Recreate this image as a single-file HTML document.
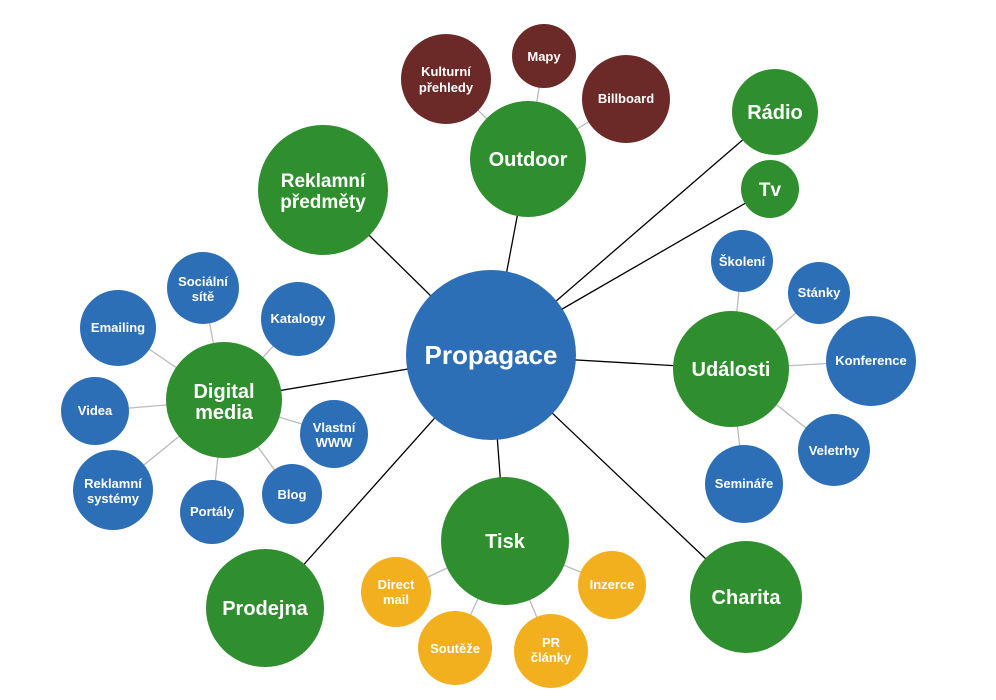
<!DOCTYPE html>
<html><head><meta charset="utf-8"><style>
html,body{margin:0;padding:0;background:#fff;}
svg{display:block;}
text{font-family:"Liberation Sans","DejaVu Sans",sans-serif;font-weight:bold;fill:#fff;text-anchor:middle;}
</style></head><body>
<svg width="996" height="700" viewBox="0 0 996 700" xmlns="http://www.w3.org/2000/svg">
<g stroke="#000" stroke-width="1.3">
<line x1="491" y1="355" x2="528" y2="159"/>
<line x1="491" y1="355" x2="323" y2="190"/>
<line x1="555" y1="302" x2="775" y2="112"/>
<line x1="557" y1="312" x2="770" y2="189"/>
<line x1="491" y1="355" x2="731" y2="369"/>
<line x1="491" y1="355" x2="746" y2="597"/>
<line x1="491" y1="355" x2="505" y2="541"/>
<line x1="491" y1="355" x2="265" y2="608"/>
<line x1="491" y1="355" x2="224" y2="400"/>
</g>
<g stroke="#bbb" stroke-width="1.3">
<line x1="528" y1="159" x2="446" y2="79"/><line x1="528" y1="159" x2="544" y2="56"/><line x1="528" y1="159" x2="626" y2="99"/>
<line x1="731" y1="369" x2="742" y2="261"/><line x1="731" y1="369" x2="819" y2="293"/><line x1="731" y1="369" x2="871" y2="361"/><line x1="731" y1="369" x2="834" y2="450"/><line x1="731" y1="369" x2="744" y2="484"/>
<line x1="505" y1="541" x2="396" y2="592"/><line x1="505" y1="541" x2="612" y2="585"/><line x1="505" y1="541" x2="455" y2="648"/><line x1="505" y1="541" x2="551" y2="651"/>
<line x1="224" y1="400" x2="203" y2="288"/><line x1="224" y1="400" x2="298" y2="319"/><line x1="224" y1="400" x2="118" y2="328"/><line x1="224" y1="400" x2="95" y2="411"/><line x1="224" y1="400" x2="334" y2="434"/><line x1="224" y1="400" x2="113" y2="490"/><line x1="224" y1="400" x2="212" y2="512"/><line x1="224" y1="400" x2="292" y2="494"/>
</g>
<g fill="#2f8f2f">
<circle cx="528" cy="159" r="58"/><circle cx="323" cy="190" r="65"/><circle cx="775" cy="112" r="43"/><circle cx="770" cy="189" r="29"/><circle cx="731" cy="369" r="58"/><circle cx="746" cy="597" r="56"/><circle cx="505" cy="541" r="64"/><circle cx="265" cy="608" r="59"/><circle cx="224" cy="400" r="58"/>
</g>
<g fill="#6b2a28"><circle cx="446" cy="79" r="45"/><circle cx="544" cy="56" r="32"/><circle cx="626" cy="99" r="44"/></g>
<g fill="#2c6fb7">
<circle cx="491" cy="355" r="85"/>
<circle cx="742" cy="261" r="31"/><circle cx="819" cy="293" r="31"/><circle cx="871" cy="361" r="45"/><circle cx="834" cy="450" r="36"/><circle cx="744" cy="484" r="39"/>
<circle cx="203" cy="288" r="36"/><circle cx="298" cy="319" r="37"/><circle cx="118" cy="328" r="38"/><circle cx="95" cy="411" r="34"/><circle cx="334" cy="434" r="34"/><circle cx="113" cy="490" r="40"/><circle cx="212" cy="512" r="32"/><circle cx="292" cy="494" r="30"/>
</g>
<g fill="#f2b01e"><circle cx="396" cy="592" r="35"/><circle cx="612" cy="585" r="34"/><circle cx="455" cy="648" r="37"/><circle cx="551" cy="651" r="37"/></g>
<text x="491" y="364" font-size="26">Propagace</text>
<text x="528" y="166" font-size="20">Outdoor</text>
<text x="323" y="187" font-size="19">Reklamní</text><text x="323" y="208" font-size="19">předměty</text>
<text x="775" y="119" font-size="20">Rádio</text>
<text x="770" y="196" font-size="19">Tv</text>
<text x="731" y="376" font-size="20">Události</text>
<text x="746" y="604" font-size="20">Charita</text>
<text x="505" y="548" font-size="20">Tisk</text>
<text x="265" y="615" font-size="20">Prodejna</text>
<text x="224" y="398" font-size="20">Digital</text><text x="224" y="419" font-size="20">media</text>
<g font-size="13">
<text x="446" y="76">Kulturní</text><text x="446" y="92">přehledy</text>
<text x="544" y="61">Mapy</text>
<text x="626" y="103">Billboard</text>
<text x="742" y="266">Školení</text>
<text x="819" y="297">Stánky</text>
<text x="871" y="365">Konference</text>
<text x="834" y="455">Veletrhy</text>
<text x="744" y="488">Semináře</text>
<text x="203" y="286">Sociální</text><text x="203" y="301">sítě</text>
<text x="298" y="323">Katalogy</text>
<text x="118" y="332">Emailing</text>
<text x="95" y="415">Videa</text>
<text x="334" y="432">Vlastní</text><text x="334" y="447">WWW</text>
<text x="113" y="488">Reklamní</text><text x="113" y="503">systémy</text>
<text x="212" y="516">Portály</text>
<text x="292" y="499">Blog</text>
<text x="396" y="589">Direct</text><text x="396" y="604">mail</text>
<text x="612" y="589">Inzerce</text>
<text x="455" y="653">Soutěže</text>
<text x="551" y="647">PR</text><text x="551" y="662">články</text>
</g>
</svg>
</body></html>
